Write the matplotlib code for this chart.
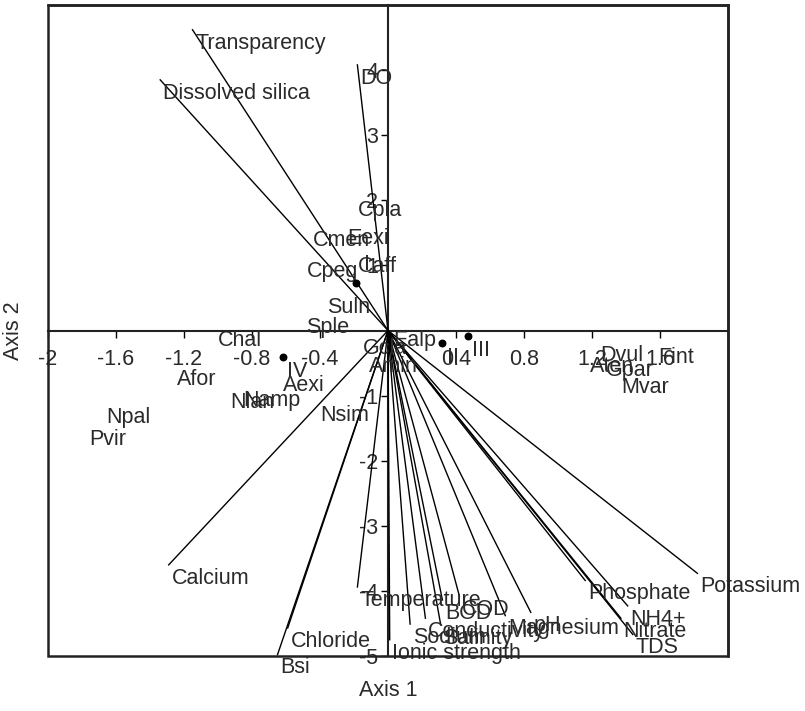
import matplotlib
matplotlib.use("Agg")
import matplotlib.pyplot as plt
from matplotlib.patches import Rectangle

plt.rcParams["font.family"] = ["Liberation Sans", "DejaVu Sans"]
plt.rcParams["axes.unicode_minus"] = False

# environmental vectors (biplot arrow tips)
env_names = ["Transparency", "Dissolved silica", "DO", "Calcium", "Bsi", "Chloride",
             "Temperature", "Ionic strength", "Sodium", "Conductivity", "Salinity",
             "BOD", "COD", "Magnesium", "pH", "Phosphate", "NH4+", "Nitrate", "TDS",
             "Potassium"]
env_x = [-1.15, -1.34, -0.18, -1.29, -0.65, -0.59, -0.18, 0.01, 0.13, 0.22, 0.31,
         0.32, 0.42, 0.69, 0.84, 1.16, 1.41, 1.37, 1.44, 1.82]
env_y = [4.62, 3.85, 4.08, -3.60, -4.98, -4.57, -3.94, -4.75, -4.51, -4.42, -4.52,
         -4.14, -4.08, -4.38, -4.33, -3.84, -4.23, -4.42, -4.67, -3.73]

# species scores
species = ["Cpla", "Eexi", "Cmen", "Caff", "Cpeg", "Suln", "Sple", "Chal", "Afor",
           "Aexi", "Namp", "Nlan", "Nsim", "Npal", "Pvir", "Gcla", "Amin", "Ealp",
           "Aten", "Dvul", "Fint", "Gpar", "Mvar"]
sp_x = [-0.18, -0.24, -0.44, -0.18, -0.48, -0.36, -0.48, -1.00, -1.24, -0.62, -0.85,
        -0.93, -0.40, -1.66, -1.76, -0.15, -0.11, 0.03, 1.19, 1.25, 1.59, 1.28, 1.37]
sp_y = [1.85, 1.42, 1.39, 0.99, 0.90, 0.35, 0.04, -0.15, -0.76, -0.84, -1.07,
        -1.10, -1.30, -1.34, -1.68, -0.27, -0.55, -0.15, -0.56, -0.38, -0.41, -0.61, -0.88]

# sample (site) scores
sites = ["I", "II", "III", "IV"]
site_x = [-0.19, 0.32, 0.47, -0.62]
site_y = [0.73, -0.19, -0.08, -0.41]

xticks = [-2, -1.6, -1.2, -0.8, -0.4, 0.4, 0.8, 1.2, 1.6]
yticks = [-5, -4, -3, -2, -1, 1, 2, 3, 4]

FS = 15.5
TXT = "#2a2a2a"

fig = plt.figure(figsize=(8.05, 7.11), dpi=100)
ax = fig.add_axes([48 / 805, 55 / 711, 680 / 805, 651 / 711])
ax.set_xlim(-2, 2)
ax.set_ylim(-5, 5)

# axes through origin, box around plot
ax.spines["left"].set_position("zero")
ax.spines["bottom"].set_position("zero")
for s in ["left", "bottom"]:
    ax.spines[s].set_linewidth(1.5)
    ax.spines[s].set_color("#222222")
for s in ["top", "right"]:
    ax.spines[s].set_linewidth(1.8)
    ax.spines[s].set_color("#222222")
ax.add_patch(Rectangle((0, 0), 1, 1, transform=ax.transAxes, fill=False,
                       lw=1.8, ec="#222222", zorder=5, clip_on=False))

ax.set_xticks(xticks)
ax.set_xticklabels([f"{t:g}" for t in xticks])
ax.set_yticks(yticks)
ax.set_yticklabels([f"{t:g}" for t in yticks])
ax.tick_params(axis="x", direction="out", length=5, width=1, pad=8,
               labelsize=FS, labelcolor=TXT)
ax.tick_params(axis="y", direction="out", length=5, width=1, pad=2,
               labelsize=FS, labelcolor=TXT)

# environmental vectors
for name, x, y in zip(env_names, env_x, env_y):
    ax.plot([0, x], [0, y], color="black", lw=1.0, zorder=3)
    ax.annotate(name, (x, y), xytext=(2, -2), textcoords="offset points",
                ha="left", va="top", fontsize=FS, color=TXT, zorder=4)

# species labels
for name, x, y in zip(species, sp_x, sp_y):
    ax.text(x, y, name, ha="left", va="center", fontsize=FS, color=TXT, zorder=4)

# sites
ax.scatter(site_x, site_y, s=22, color="black", zorder=5)
site_offsets = {"I": (6, 6), "II": (3, -3), "III": (3, -3), "IV": (3, -3)}
for name, x, y in zip(sites, site_x, site_y):
    dx, dy = site_offsets[name]
    ax.annotate(name, (x, y), xytext=(dx, dy), textcoords="offset points",
                ha="left", va="bottom" if dy > 0 else "top",
                fontsize=FS, color=TXT, zorder=4)

ax.set_xlabel("Axis 1", fontsize=FS, color=TXT)
ax.set_ylabel("Axis 2", fontsize=FS, color=TXT)
ax.xaxis.set_label_coords(0.5, -0.037)
ax.yaxis.set_label_coords(-0.036, 0.5)

fig.savefig("out.png", dpi=100)
